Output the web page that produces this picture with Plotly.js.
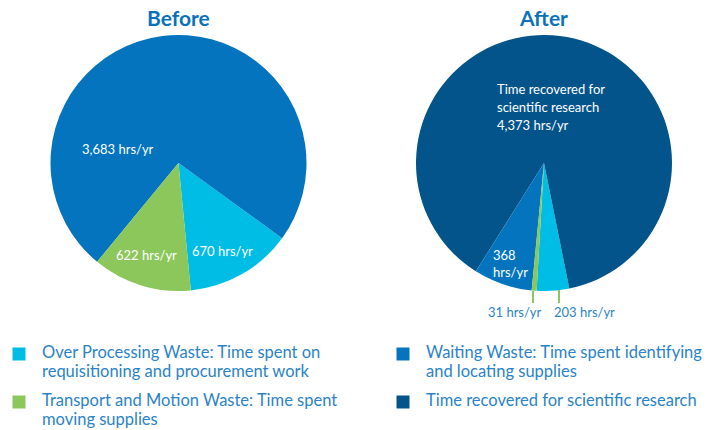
<!DOCTYPE html>
<html>
<head>
<meta charset="utf-8">
<script src="https://cdn.plot.ly/plotly-3.0.1.min.js"></script>
<style>html,body{margin:0;padding:0;background:#fff;}#chart{width:719px;height:430px;}</style>
</head>
<body>
<div id="chart"></div>
<script>
// ---- data ----
const categories = [
  "Over Processing Waste: Time spent on requisitioning and procurement work",
  "Waiting Waste: Time spent identifying and locating supplies",
  "Transport and Motion Waste: Time spent moving supplies",
  "Time recovered for scientific research"
];
// legend text as wrapped in the reference
const legendLines = [
  ["Over Processing Waste: Time spent on", "requisitioning and procurement work"],
  ["Waiting Waste: Time spent identifying", "and locating supplies"],
  ["Transport and Motion Waste: Time spent", "moving supplies"],
  ["Time recovered for scientific research"]
];
const beforeLabels = [categories[0], categories[1], categories[2]];
const beforeValues = [670, 3683, 622];
const afterLabels = [categories[0], categories[3], categories[1], categories[2]];
const afterValues = [203, 4373, 368, 31];
const panelTitles = ["Before", "After"];

// ---- styles ----
const palette = ["#00bde6", "#0374bd", "#8cc75b", "#04548c"];
const colorMap = {};
categories.forEach((c, i) => colorMap[c] = palette[i]);
const W = 719, H = 430;
const px = x => x / W;
const py = y => 1 - y / H;
const FONT = "Lato, 'Open Sans', sans-serif";
const TEXTBLUE = "#2a83c6";

const fmt = v => v.toLocaleString("en-US") + " hrs/yr";

const traces = [
  {
    type: "pie", labels: beforeLabels, values: beforeValues,
    marker: {colors: beforeLabels.map(l => colorMap[l])},
    sort: false, direction: "counterclockwise", rotation: 126,
    textinfo: "none", hoverinfo: "label+value", showlegend: false,
    domain: {x: [px(50), px(307)], y: [py(291), py(35)]}
  },
  {
    type: "pie", labels: afterLabels, values: afterValues,
    marker: {colors: afterLabels.map(l => colorMap[l])},
    sort: false, direction: "counterclockwise", rotation: 168.6,
    textinfo: "none", hoverinfo: "label+value", showlegend: false,
    domain: {x: [px(416), px(672)], y: [py(291), py(35)]}
  }
];

function ann(text, x, y, opts) {
  return Object.assign({
    text: text, x: px(x), y: py(y), xref: "paper", yref: "paper",
    showarrow: false, xanchor: "center", yanchor: "middle",
    font: {family: FONT, size: 13, color: "#ffffff"}
  }, opts || {});
}

const annotations = [
  ann("<b>" + panelTitles[0] + "</b>", 178, 17, {font: {family: FONT, size: 21, color: "#0a72bd"}}),
  ann("<b>" + panelTitles[1] + "</b>", 543, 17, {font: {family: FONT, size: 21, color: "#0a72bd"}}),
  ann(fmt(beforeValues[1]), 118, 149),
  ann(fmt(beforeValues[2]), 146, 255),
  ann(fmt(beforeValues[0]), 222, 251),
  ann("Time recovered for", 495, 89, {xanchor: "left"}),
  ann("scientific research", 495, 107, {xanchor: "left"}),
  ann(fmt(afterValues[1]), 495, 125, {xanchor: "left"}),
  ann(String(afterValues[2]) + "<br>hrs/yr", 491, 263, {xanchor: "left", align: "left"}),
  ann(fmt(afterValues[3]), 515, 312, {font: {family: FONT, size: 13, color: TEXTBLUE}}),
  ann(fmt(afterValues[0]), 584, 312, {font: {family: FONT, size: 13, color: TEXTBLUE}})
];

const shapes = [
  {type: "line", xref: "paper", yref: "paper", x0: px(533), x1: px(533), y0: py(291), y1: py(303), line: {color: "#8cc75b", width: 2}},
  {type: "line", xref: "paper", yref: "paper", x0: px(559), x1: px(559), y0: py(290), y1: py(303), line: {color: "#8cc75b", width: 2}}
];

// legend (2 columns, order by column as in reference)
const legendSlots = [
  {cat: 0, sx: 19, tx: 40, y: 352},
  {cat: 1, sx: 403, tx: 424, y: 352},
  {cat: 2, sx: 19, tx: 40, y: 400},
  {cat: 3, sx: 403, tx: 424, y: 400}
];
legendSlots.forEach(s => {
  const c = palette[s.cat];
  shapes.push({type: "rect", xref: "paper", yref: "paper",
    x0: px(s.sx - 6.5), x1: px(s.sx + 6.5), y0: py(s.y + 8.5), y1: py(s.y - 4.5),
    fillcolor: c, line: {width: 0}});
  legendLines[s.cat].forEach((line, k) => {
    annotations.push(ann(line, s.tx, s.y + k * 18.5,
      {xanchor: "left", font: {family: FONT, size: 16.5, color: TEXTBLUE}}));
  });
});

const layout = {
  width: W, height: H,
  margin: {l: 0, r: 0, t: 0, b: 0},
  paper_bgcolor: "#ffffff",
  font: {family: FONT},
  showlegend: false,
  annotations: annotations,
  shapes: shapes
};

Plotly.newPlot("chart", traces, layout, {displayModeBar: false, staticPlot: true});
</script>
</body>
</html>
